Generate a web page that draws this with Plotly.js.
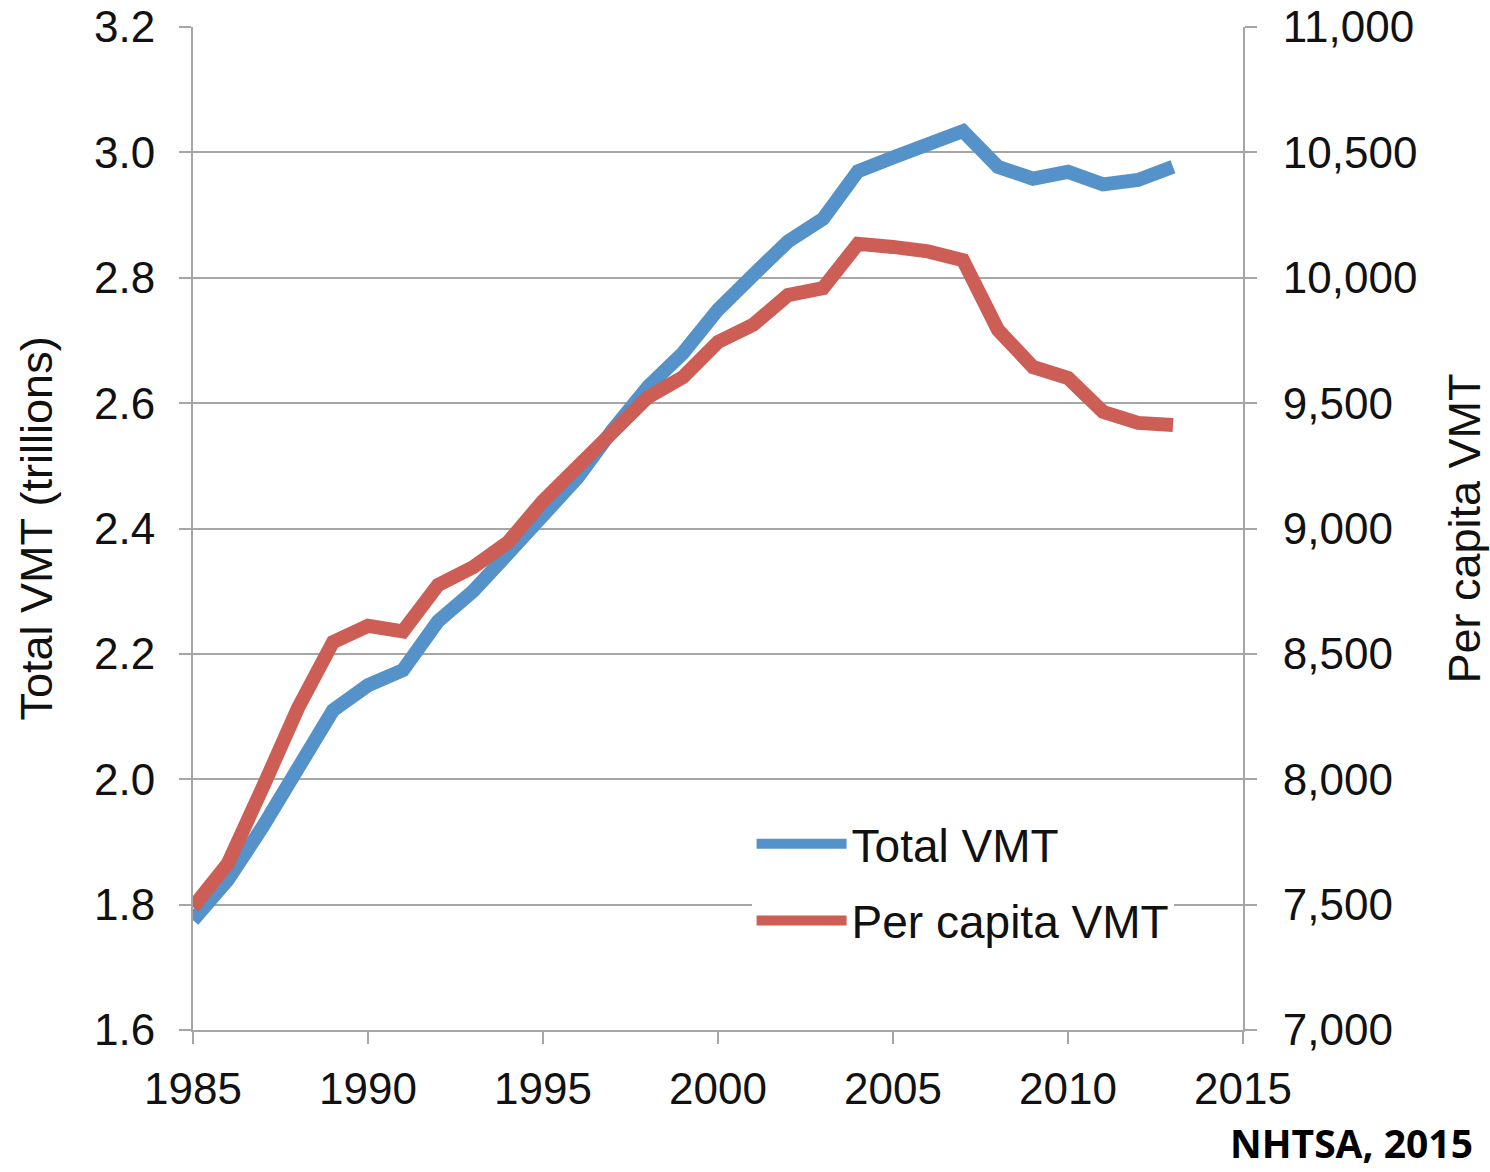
<!DOCTYPE html>
<html>
<head>
<meta charset="utf-8">
<script src="https://cdn.plot.ly/plotly-3.0.1.min.js"></script>
<style>html,body{margin:0;padding:0;background:#fff;}#chart{width:1490px;height:1172px;}</style>
</head>
<body>
<div id="chart"></div>
<script>
const years = [1985,1986,1987,1988,1989,1990,1991,1992,1993,1994,1995,1996,1997,1998,1999,2000,2001,2002,2003,2004,2005,2006,2007,2008,2009,2010,2011,2012,2013];
const totalVMT = [1.775,1.840,1.925,2.023,2.110,2.150,2.174,2.252,2.300,2.360,2.422,2.482,2.558,2.626,2.680,2.749,2.804,2.858,2.894,2.970,2.992,3.016,3.034,2.977,2.958,2.969,2.949,2.956,2.977];
const perCapitaVMT = [7490,7665,7970,8284,8547,8612,8590,8775,8846,8945,9110,9245,9393,9524,9604,9744,9812,9931,9959,10135,10123,10105,10070,9792,9644,9600,9465,9421,9413];
const seriesNames = ["Total VMT","Per capita VMT"];
const leftTitle = "Total VMT (trillions)";
const rightTitle = "Per capita VMT";
const sourceNote = "NHTSA, 2015";

const FONT = "Liberation Sans, Arial, sans-serif";
const GRID = "#a6a6a6";
const TXT = "#111";

const traces = [
  {x: years, y: totalVMT, name: seriesNames[0], type: "scatter", mode: "lines",
   line: {color: "#5592c9", width: 14}, yaxis: "y", legendgroup: "a"},
  {x: years, y: perCapitaVMT, name: seriesNames[1], type: "scatter", mode: "lines",
   line: {color: "#cc5e55", width: 14}, yaxis: "y2", legendgroup: "b"}
];

const layout = {
  width: 1490, height: 1172,
  margin: {l: 193, r: 247, t: 27, b: 142, pad: 0},
  paper_bgcolor: "#fff", plot_bgcolor: "#fff",
  font: {family: FONT, size: 44, color: TXT},
  showlegend: true,
  legend: {x: 0.532, y: 0.222, xanchor: "left", yanchor: "top", bgcolor: "#fff",
           font: {family: FONT, size: 46, color: TXT}, itemwidth: 90, tracegroupgap: 14},
  xaxis: {range: [1985, 2015], dtick: 5, tick0: 1985, showgrid: false, zeroline: false,
          showline: true, linecolor: GRID, linewidth: 2, ticks: "outside", ticklen: 12,
          tickcolor: GRID, tickwidth: 2, tickfont: {family: FONT, size: 44, color: TXT},
          ticklabelstandoff: 7},
  yaxis: {range: [1.6, 3.2], dtick: 0.2, tick0: 1.6, tickformat: ".1f", showgrid: true,
          gridcolor: GRID, gridwidth: 2, zeroline: false, showline: true, linecolor: GRID,
          linewidth: 2, ticks: "outside", ticklen: 12, tickcolor: GRID, tickwidth: 2,
          tickfont: {family: FONT, size: 44, color: TXT}, ticklabelstandoff: 15,
          title: {text: leftTitle, font: {family: FONT, size: 45, color: TXT}, standoff: 27}},
  yaxis2: {range: [7000, 11000], dtick: 500, tick0: 7000, tickformat: ",d", overlaying: "y",
           side: "right", showgrid: false, zeroline: false, showline: true, linecolor: GRID,
           linewidth: 2, ticks: "outside", ticklen: 12, tickcolor: GRID, tickwidth: 2,
           tickfont: {family: FONT, size: 44, color: TXT}, ticklabelstandoff: 17,
           title: {text: rightTitle, font: {family: FONT, size: 45, color: TXT}, standoff: 33}},
  annotations: [{text: "<b>" + sourceNote + "</b>", xref: "paper", yref: "paper",
                 x: 1.2214, y: -0.1125, xanchor: "right", yanchor: "middle", showarrow: false,
                 font: {family: "Open Sans, sans-serif", size: 39, color: "#000"}}]
};

Plotly.newPlot("chart", traces, layout, {displayModeBar: false, staticPlot: true});
</script>
</body>
</html>
